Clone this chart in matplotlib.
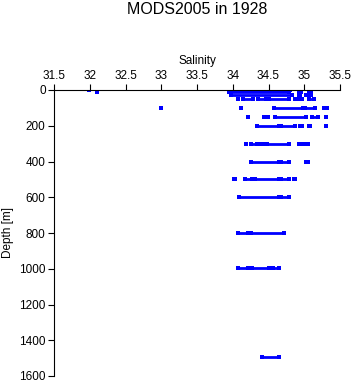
"""MODS2005 salinity profile for 1928: observed salinity against depth."""

import matplotlib

matplotlib.use("Agg")

import matplotlib.pyplot as plt

plt.rcParams["font.family"] = ["Liberation Sans", "DejaVu Sans"]

# Standard depth levels [m] and observed salinity at each.
# Each entry is a run (lo, hi) of closely spaced observations; lo == hi is a single cast.
depths = [2, 13, 28, 52, 100, 153, 203, 302, 401, 500, 600, 802, 998, 1496]
salinity_runs = [
    [(31.985, 31.985), (33.95, 34.80), (34.92, 34.94), (35.06, 35.07)],
    [(32.10, 32.10), (33.95, 34.78), (34.93, 34.95), (35.07, 35.09)],
    [(33.97, 34.83), (34.93, 34.94), (35.02, 35.03), (35.08, 35.10)],
    [(34.07, 34.08), (34.14, 34.28), (34.35, 34.46), (34.50, 34.79),
     (34.87, 34.87), (34.93, 34.97), (35.06, 35.14)],
    [(33.00, 33.00), (34.115, 34.115), (34.58, 34.98), (35.01, 35.15),
     (35.27, 35.32)],
    [(34.22, 34.22), (34.44, 34.49), (34.59, 35.03), (35.11, 35.19),
     (35.30, 35.31)],
    [(34.34, 34.64), (34.67, 34.87), (34.94, 34.97), (35.06, 35.08),
     (35.30, 35.31)],
    [(34.18, 34.19), (34.26, 34.34), (34.39, 34.45), (34.48, 34.79),
     (34.93, 34.97), (35.03, 35.05)],
    [(34.25, 34.64), (34.68, 34.79), (35.03, 35.05)],
    [(34.02, 34.03), (34.17, 34.27), (34.31, 34.65), (34.68, 34.79),
     (34.86, 34.87)],
    [(34.09, 34.64), (34.67, 34.79)],
    [(34.07, 34.22), (34.26, 34.72)],
    [(34.07, 34.22), (34.27, 34.51), (34.56, 34.64)],
    [(34.41, 34.64)],
]

x_ticks = [31.5, 32, 32.5, 33, 33.5, 34, 34.5, 35, 35.5]
y_ticks = [0, 200, 400, 600, 800, 1000, 1200, 1400, 1600]

blue = (0.0, 0.0, 1.0)

fig = plt.figure(figsize=(3.53, 3.84), dpi=100)
ax = fig.add_axes([54 / 353, 8 / 384, 286 / 353, 286 / 384])

for depth, runs in zip(depths, salinity_runs):
    for lo, hi in runs:
        ax.plot([lo, hi], [depth, depth], color=blue, lw=2.0,
                solid_capstyle="butt", marker="s", ms=2.2, mew=0)

ax.set_xlim(31.5, 35.5)
ax.set_ylim(1600, 0)
ax.set_xticks(x_ticks)
ax.set_xticklabels([f"{t:g}" for t in x_ticks])
ax.set_yticks(y_ticks)

ax.xaxis.tick_top()
ax.xaxis.set_label_position("top")
ax.set_xlabel("Salinity", fontsize=8.5, labelpad=4)
ax.set_ylabel("Depth [m]", fontsize=8.5, labelpad=4)

for side in ("right", "bottom"):
    ax.spines[side].set_visible(False)
for side in ("left", "top"):
    ax.spines[side].set_linewidth(0.8)
ax.tick_params(direction="out", length=4, width=0.8, labelsize=8.5, pad=2)

fig.text(197 / 353, 1 - 9 / 384, "MODS2005 in 1928", ha="center",
         va="center", fontsize=11.5)

fig.savefig("out.png", dpi=100)
plt.close(fig)
